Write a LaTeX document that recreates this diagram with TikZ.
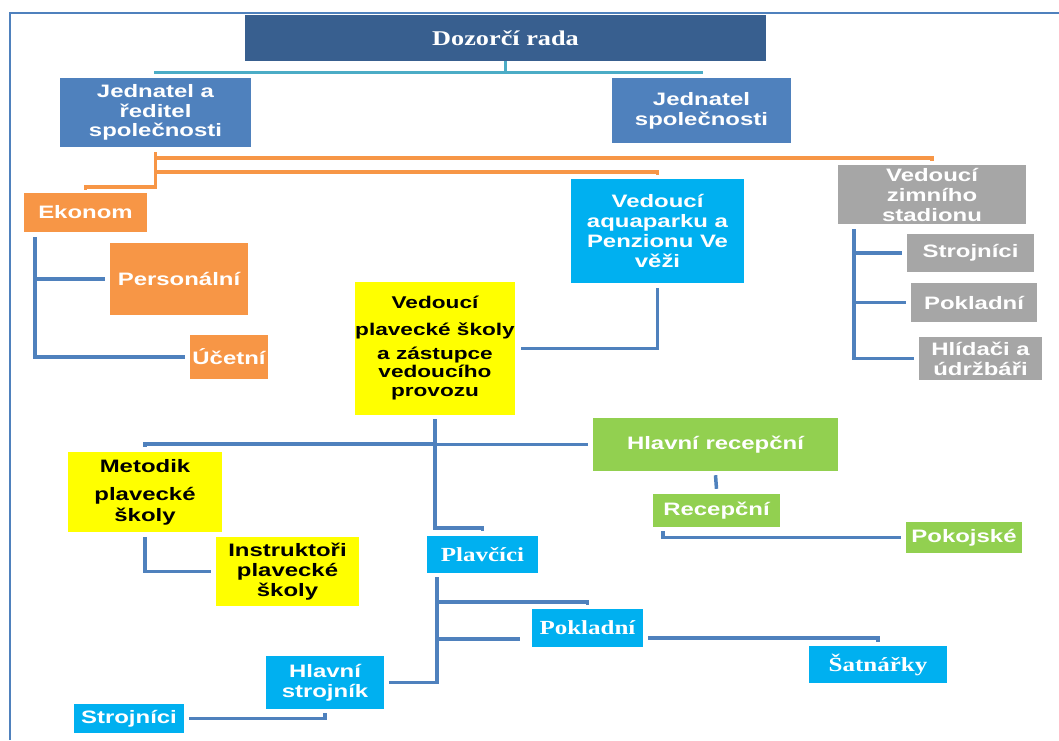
\documentclass[tikz,border=0pt]{standalone}
\usepackage{fontspec}
\newfontfamily\sansb{Liberation Sans}[FakeStretch=1.33]
\newfontfamily\serifb{Liberation Serif}[FakeStretch=1.25]
\definecolor{dozor}{HTML}{385F8F}
\definecolor{jblue}{HTML}{4F81BD}
\definecolor{orng}{HTML}{F79646}
\definecolor{cyanb}{HTML}{00B0F0}
\definecolor{yel}{HTML}{FFFF00}
\definecolor{gry}{HTML}{A6A6A6}
\definecolor{grn}{HTML}{92D050}
\definecolor{teal}{HTML}{4BACC6}
\begin{document}
\begin{tikzpicture}[x=1pt,y=-1pt,
  orgbox/.style={inner sep=0pt, align=center, text=white, font=\sansb\bfseries\fontsize{18}{20}\selectfont},
  serbox/.style={orgbox, font=\serifb\bfseries\fontsize{20}{22}\selectfont},
  blkbox/.style={orgbox, text=black},
  bline/.style={line width=3.5pt, draw=jblue},
  oline/.style={line width=3.5pt, draw=orng},
  tline/.style={line width=3pt, draw=teal}]
\useasboundingbox (0,0) rectangle (1059,740);
\draw[jblue, line width=1.2pt] (10,740) -- (10,13) -- (1059,13);

% nodes
\node[serbox, fill=dozor, minimum width=521pt, minimum height=46pt, font=\serifb\bfseries\fontsize{21}{24}\selectfont] (dozor) at (505.5,38) {Dozorčí rada};
\node[orgbox, fill=jblue, minimum width=191pt, minimum height=69pt, font=\sansb\bfseries\fontsize{18}{19.5}\selectfont] (jr) at (155.5,112.5) {Jednatel a\\ředitel\\společnosti};
\node[orgbox, fill=jblue, minimum width=179pt, minimum height=65pt] (js) at (701.5,110.5) {Jednatel\\společnosti};
\node[orgbox, fill=orng, minimum width=123pt, minimum height=39pt] (ekonom) at (85.5,212.5) {Ekonom};
\node[orgbox, fill=orng, minimum width=138pt, minimum height=72pt] (personal) at (179,279) {Personální};
\node[orgbox, fill=orng, minimum width=78pt, minimum height=44pt] (ucetni) at (229,357) {Účetní};
\node[orgbox, fill=cyanb, minimum width=173pt, minimum height=104pt] (aqua) at (657.5,231) {Vedoucí\\aquaparku a\\Penzionu Ve\\věži};
\node[blkbox, fill=yel, minimum width=154pt, minimum height=133pt, font=\sansb\bfseries\fontsize{17}{20}\selectfont] (plav) at (435,348.5) {Vedoucí\\[7pt]plavecké školy\\[4pt]a zástupce\\[-2pt]vedoucího\\[-1pt]provozu};
\node[orgbox, fill=gry, minimum width=188pt, minimum height=59pt] (zimni) at (932,194.5) {Vedoucí\\zimního\\stadionu};
\node[orgbox, fill=gry, minimum width=127pt, minimum height=38pt] (gstroj) at (970.5,253) {Strojníci};
\node[orgbox, fill=gry, minimum width=126pt, minimum height=39pt] (gpokl) at (974,302.5) {Pokladní};
\node[orgbox, fill=gry, minimum width=123pt, minimum height=43pt] (hlid) at (980.5,358.5) {Hlídači a\\údržbáři};
\node[orgbox, fill=grn, minimum width=245pt, minimum height=53pt] (hrec) at (715.5,444.5) {Hlavní recepční};
\node[orgbox, fill=grn, minimum width=127pt, minimum height=33pt] (rec) at (716.5,510.5) {Recepční};
\node[orgbox, fill=grn, minimum width=116pt, minimum height=31pt] (pokoj) at (964,537.5) {Pokojské};
\node[blkbox, fill=yel, minimum width=154pt, minimum height=80pt] (metodik) at (145,492) {Metodik\\[8pt]plavecké\\[1pt]školy};
\node[blkbox, fill=yel, minimum width=143pt, minimum height=69pt] (instr) at (287.5,571.5) {Instruktoři\\plavecké\\školy};
\node[serbox, fill=cyanb, minimum width=111pt, minimum height=37pt] (plavcici) at (482.5,554.5) {Plavčíci};
\node[serbox, fill=cyanb, minimum width=111pt, minimum height=38pt] (bpokl) at (587.5,628) {Pokladní};
\node[serbox, fill=cyanb, minimum width=138pt, minimum height=37pt] (satn) at (878,664.5) {Šatnářky};
\node[orgbox, fill=cyanb, minimum width=118pt, minimum height=53pt] (hstroj) at (325,682.5) {Hlavní\\strojník};
\node[orgbox, fill=cyanb, minimum width=110pt, minimum height=29pt] (bstroj) at (129,718.5) {Strojníci};

% teal connectors
\draw[tline] (dozor.south) -- ++(0,11) -| ([yshift=4pt]jr.north);
\draw[tline] (dozor.south) -- ++(0,11) -| ([yshift=4pt]js.north);

% orange connectors
\draw[oline] ([yshift=-5pt]jr.south) -- ++(0,35) -| ([yshift=3pt]ekonom.north);
\draw[oline] ([yshift=-5pt]jr.south) -- ++(0,6) -| ([yshift=4pt]zimni.north);
\draw[oline] ([yshift=-5pt]jr.south) -- ++(0,20) -| ([yshift=4pt]aqua.north);

% blue connectors
\draw[bline] ([xshift=11pt,yshift=-5pt]ekonom.south west) |- ([xshift=-5pt]personal.west);
\draw[bline] ([xshift=11pt,yshift=-5pt]ekonom.south west) |- ([xshift=-5pt]ucetni.west);
\draw[bline] ([yshift=-5pt]aqua.south) |- ([xshift=6pt]plav.east);
\draw[bline] ([xshift=16pt,yshift=-5pt]zimni.south west) |- ([xshift=-5pt]gstroj.west);
\draw[bline] ([xshift=16pt,yshift=-5pt]zimni.south west) |- ([xshift=-5pt]gpokl.west);
\draw[bline] ([xshift=16pt,yshift=-5pt]zimni.south west) |- ([xshift=-5pt]hlid.west);
\draw[bline] ([yshift=-4pt]plav.south) -- ++(0,109) -| ([yshift=5pt]plavcici.north);
\draw[bline] ([yshift=-4pt]plav.south) -- ++(0,25) -| ([yshift=5pt]metodik.north);
\draw[bline] ([yshift=-4pt]plav.south) |- ([xshift=-5pt]hrec.west);
\draw[bline] ([yshift=-4pt]hrec.south) -- ([yshift=5pt]rec.north);
\draw[bline] ([xshift=10pt,yshift=-4pt]rec.south west) |- ([xshift=-5pt]pokoj.west);
\draw[bline] ([yshift=-5pt]metodik.south) |- ([xshift=-5pt]instr.west);
\draw[bline] ([xshift=10pt,yshift=-4pt]plavcici.south west) -- ++(0,25) -| ([yshift=4pt]bpokl.north);
\draw[bline] ([xshift=10pt,yshift=-4pt]plavcici.south west) |- ([xshift=-12pt,yshift=8pt]bpokl.south west);
\draw[bline] ([xshift=10pt,yshift=-4pt]plavcici.south west) |- ([xshift=5pt]hstroj.east);
\draw[bline] ([xshift=5pt,yshift=-10pt]bpokl.east) -| ([yshift=4pt]satn.north);
\draw[bline] ([xshift=5pt]bstroj.east) -| ([yshift=-4pt]hstroj.south);
\end{tikzpicture}
\end{document}
